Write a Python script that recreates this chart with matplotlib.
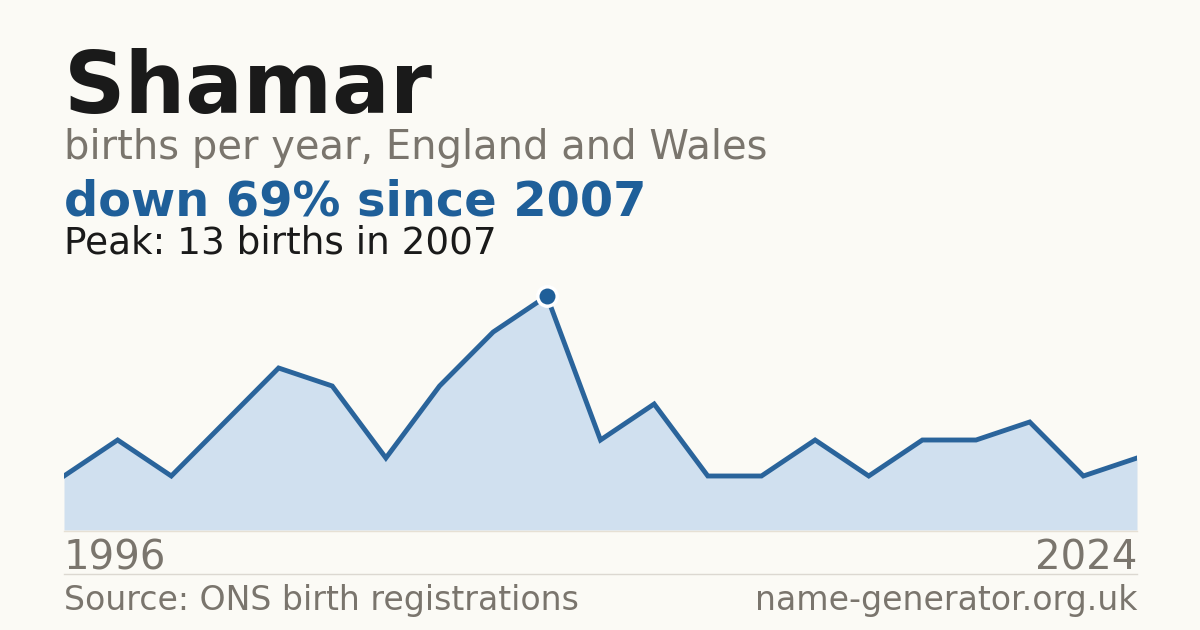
import matplotlib
matplotlib.use("Agg")
import matplotlib.pyplot as plt
import numpy as np

plt.rcParams['font.family'] = ['DejaVu Sans']

name = "Shamar"
subtitle = "births per year, England and Wales"
headline = "down 69% since 2007"
peak_text = "Peak: 13 births in 2007"
first_year = "1996"
last_year = "2024"
source = "Source: ONS birth registrations"
site = "name-generator.org.uk"

births = [3, 5, 3, 6, 9, 8, 4, 8, 11, 13, 5, 7, 3, 3, 5, 3, 5, 5, 6, 3, 4]
peak_index = 9

W, H = 1200, 630
BG = "#fbfaf5"
BLUE = "#1f5f99"
LINE = "#2a649b"
FILL = "#d0e0ef"
GRAY = "#7a756d"

fig = plt.figure(figsize=(W/100, H/100), dpi=100, facecolor=BG)

def fx(px): return px / W
def fy(py): return 1 - py / H

# chart axes: x 64..1137, baseline y=530, value 13 at y=296
ax_top = 270
ax = fig.add_axes([fx(64), fy(530), fx(1137 - 64), (530 - ax_top) / H])
ax.set_facecolor("none")
x = np.arange(len(births))
ymax = 13 * (530 - ax_top) / (530 - 296)
ax.set_xlim(0, len(births) - 1)
ax.set_ylim(0, ymax)
ax.fill_between(x, births, 0, color=FILL, lw=0, zorder=1)
ax.plot(x, births, color=LINE, lw=3.5, solid_joinstyle='miter', zorder=2)
ax.plot([x[peak_index]], [births[peak_index]], 'o', ms=14, mfc=BLUE, mec="white", mew=2.5,
        zorder=3, clip_on=False)
ax.axis('off')

# baseline under the fill
fig.add_artist(plt.Line2D([fx(64), fx(1137)], [fy(530.5), fy(530.5)], color="#e6e0d4", lw=1))
# separator
fig.add_artist(plt.Line2D([fx(64), fx(1137)], [fy(574), fy(574)], color="#dcd8d1", lw=1))

fig.text(fx(64), fy(113), name, fontsize=61.6, fontweight='bold', color="#1a1a1a", va='baseline')
fig.text(fx(64), fy(159), subtitle, fontsize=28.8, color=GRAY, va='baseline')
fig.text(fx(64), fy(215), headline, fontsize=34.5, fontweight='bold', color=BLUE, va='baseline')
fig.text(fx(64), fy(253), peak_text, fontsize=26.9, color="#1a1a1a", va='baseline')
fig.text(fx(64), fy(570), first_year, fontsize=29, color=GRAY, va='baseline')
fig.text(fx(1137), fy(570), last_year, fontsize=29, color=GRAY, va='baseline', ha='right')
fig.text(fx(64), fy(610), source, fontsize=23.9, color=GRAY, va='baseline')
fig.text(fx(1137), fy(610), site, fontsize=23.9, color=GRAY, va='baseline', ha='right')

fig.savefig("out.png", dpi=100, facecolor=BG)
